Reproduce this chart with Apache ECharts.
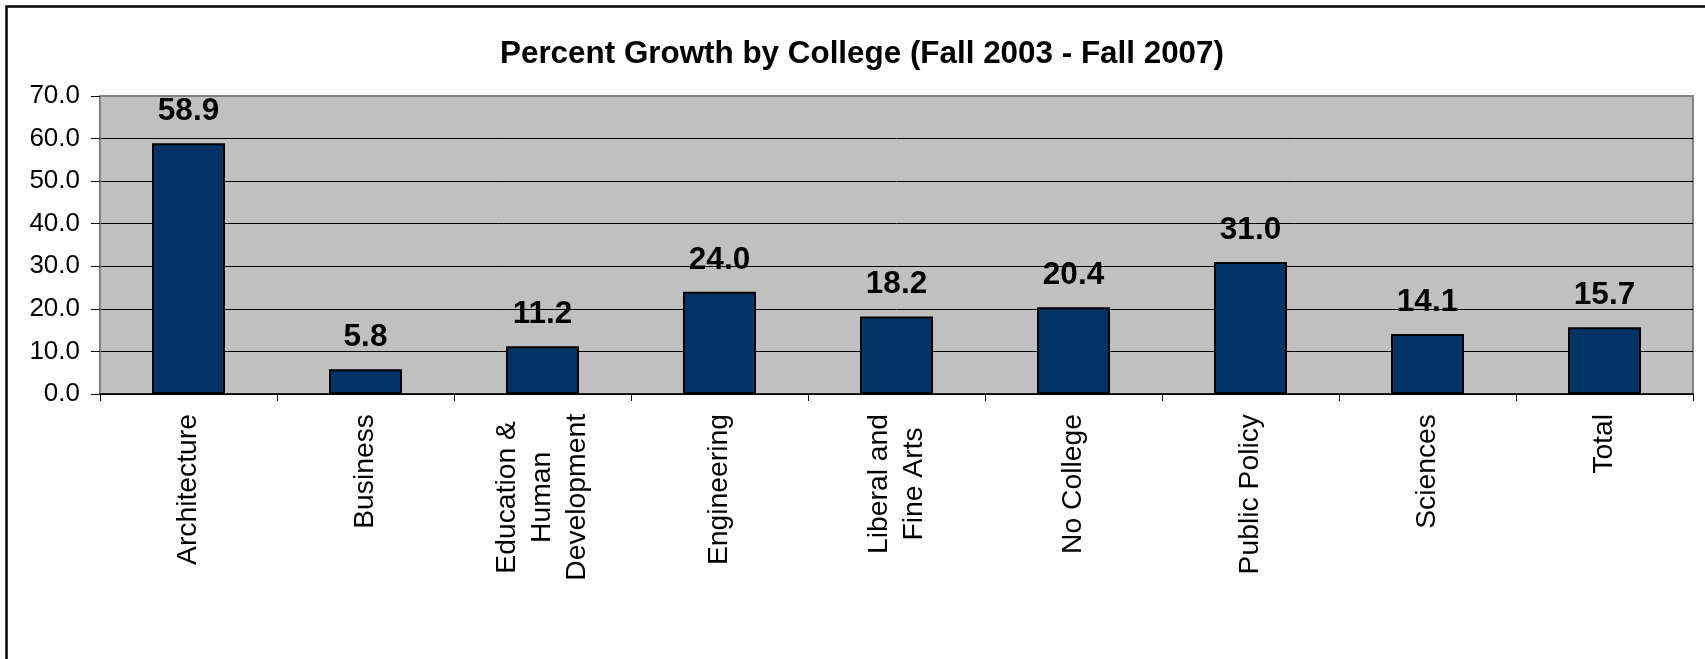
<!DOCTYPE html>
<html>
<head>
<meta charset="utf-8">
<script src="https://cdn.jsdelivr.net/npm/echarts@6/dist/echarts.min.js"></script>
<style>
  html, body { margin: 0; padding: 0; background: #ffffff; }
  #chart { width: 1705px; height: 659px; }
</style>
</head>
<body>
<div id="chart"></div>
<script>
// ---- data ----
const titleText = 'Percent Growth by College (Fall 2003 - Fall 2007)';
const categories = [
  'Architecture',
  'Business',
  'Education &\nHuman\nDevelopment',
  'Engineering',
  'Liberal and\nFine Arts',
  'No College',
  'Public Policy',
  'Sciences',
  'Total'
];
const growthValues = [58.9, 5.8, 11.2, 24.0, 18.2, 20.4, 31.0, 14.1, 15.7];
const yMin = 0;
const yMax = 70;
const yStep = 10;

// ---- chart ----
const FONT = '"Liberation Sans", Arial, Helvetica, sans-serif';
const chart = echarts.init(document.getElementById('chart'), null, { renderer: 'canvas' });

const option = {
  backgroundColor: '#ffffff',
  animation: false,
  title: {
    text: titleText,
    left: 500,
    top: 39,
    padding: 0,
    textStyle: { fontFamily: FONT, fontWeight: 'bold', fontSize: 31.4, color: '#000' }
  },
  graphic: [{
    type: 'polyline',
    shape: { points: [[6.5, 660], [6.5, 6.5], [1706, 6.5]] },
    style: { stroke: '#000', lineWidth: 2.5, fill: null },
    silent: true
  }],
  grid: {
    left: 100, right: 12, top: 96, bottom: 265,
    containLabel: false,
    outerBoundsMode: 'none',
    show: true,
    backgroundColor: '#C0C0C0',
    borderColor: '#808080',
    borderWidth: 2
  },
  xAxis: {
    type: 'category',
    data: categories,
    boundaryGap: true,
    axisLine: { show: true, lineStyle: { color: '#000', width: 1.5 } },
    axisTick: { show: true, length: 7, alignWithLabel: false, interval: 0, lineStyle: { color: '#000', width: 1 } },
    axisLabel: {
      interval: 0,
      rotate: 90,
      margin: 20,
      formatter: function (v) {
        return v.split('\n').map(function (s) { return '{c|' + s + '}'; }).join('\n');
      },
      rich: {
        c: { fontFamily: FONT, fontSize: 28.3, lineHeight: 35, color: '#000', align: 'center' }
      }
    },
    splitLine: { show: false }
  },
  yAxis: {
    type: 'value',
    min: yMin,
    max: yMax,
    interval: yStep,
    axisLine: { show: true, lineStyle: { color: '#808080', width: 2 } },
    axisTick: { show: true, length: 9, lineStyle: { color: '#000', width: 1 } },
    axisLabel: {
      margin: 20,
      fontFamily: FONT,
      fontSize: 26,
      color: '#000',
      formatter: function (v) { return v.toFixed(1); }
    },
    splitLine: { show: true, showMaxLine: false, lineStyle: { color: '#000', width: 1 } }
  },
  series: [{
    type: 'bar',
    data: growthValues,
    barWidth: 73,
    itemStyle: { color: '#003366', borderColor: '#000', borderWidth: 2 },
    label: {
      show: true,
      position: 'top',
      distance: 16,
      fontFamily: FONT,
      fontWeight: 'bold',
      fontSize: 31.5,
      color: '#000',
      formatter: function (p) { return p.value.toFixed(1); }
    }
  }]
};
chart.setOption(option);
</script>
</body>
</html>
